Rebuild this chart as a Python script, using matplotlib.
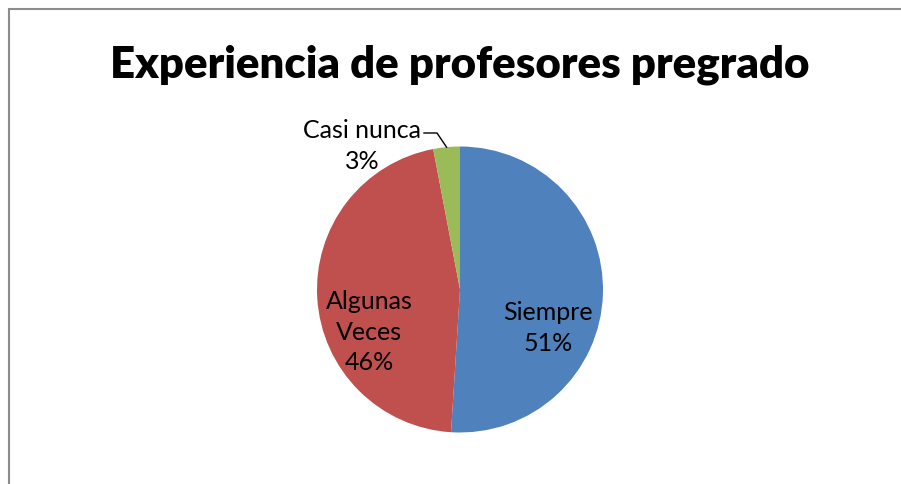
import numpy as np
import matplotlib.pyplot as plt
from matplotlib.patches import Rectangle

labels = ['Siempre', 'Algunas\nVeces', 'Casi nunca']
values = [51, 46, 3]
colors = ['#4F81BD', '#C0504D', '#9BBB59']
title = 'Experiencia de profesores pregrado'

plt.rcParams['font.family'] = ['Lato', 'DejaVu Sans']

W, H = 901, 484
fig = plt.figure(figsize=(W / 100, H / 100), dpi=100)
ax = fig.add_axes([0, 0, 1, 1])

cx, cy, r = 460, H - 289.5, 143
wedges, _ = ax.pie(values, colors=colors, startangle=90, counterclock=False,
                   center=(cx, cy), radius=r,
                   wedgeprops=dict(linewidth=0))
ax.set_xlim(0, W)
ax.set_ylim(0, H)
ax.set_aspect('equal')
ax.axis('off')

# white cover along the right margin, under the top border
ax.add_patch(Rectangle((860, -10), 60, H - 10, facecolor='white', edgecolor='none',
                       zorder=5, clip_on=False))

# chart frame: only its top and left edges fall inside the image
ax.plot([8.5, 8.5, W + 5], [-5, H - 9, H - 9], color='#8c8c8c', linewidth=1.5,
        solid_joinstyle='miter', clip_on=False, zorder=6)

ax.text(cx, H - 65, title, ha='center', va='center', fontsize=31.5, fontweight='heavy')

pct = [f'{v}%' for v in values]
ax.text(548, H - 328, labels[0] + '\n' + pct[0], ha='center', va='center',
        fontsize=18, linespacing=1.4)
ax.text(369, H - 332, labels[1] + '\n' + pct[1], ha='center', va='center',
        fontsize=18, linespacing=1.4)
ax.text(362, H - 146, labels[2] + '\n' + pct[2], ha='center', va='center',
        fontsize=18, linespacing=1.4)

# leader line for the small slice
w = wedges[2]
mid = np.deg2rad((w.theta1 + w.theta2) / 2)
ex, ey = cx + r * np.cos(mid), cy + r * np.sin(mid)
ax.plot([424, 437, ex], [H - 133, H - 133, ey], color='black', linewidth=1)

fig.savefig('out.png', dpi=100)
